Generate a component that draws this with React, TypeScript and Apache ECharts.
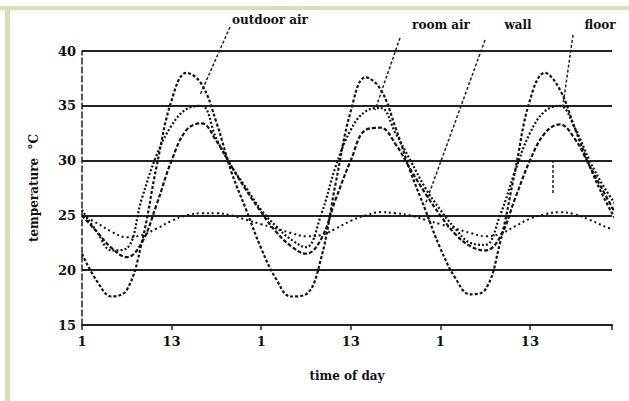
import React, { useEffect, useRef } from "react";
import * as echarts from "echarts";

const hours = [0,2,4,6,8,10,12,14,16,18,20,22,24,26,28,30,32,34,36,38,40,42,44,46,48,50,52,54,56,58,60,62,64,66,68,70,72];
const outdoor = [21.5,19,17.6,18.2,22.5,29.5,35.5,38,37,33.5,29,25.5,22,19.2,17.6,17.8,21,28,34.5,37.6,36.5,33,29,25.5,22,19.3,17.8,18.2,22.5,29,35.5,38,36.5,33,29.5,26.5,24];
const indoorAir = [25.5,23.5,21.8,22,26.5,30.5,33.2,34.7,35,32,29.5,27.5,25.5,24,22.8,22.1,25,29.5,32.8,34.5,34.8,32.5,30,27.5,25.5,23.8,22.5,22.3,25,29,32.5,34.5,35,33,30,27.5,25.5];
const wallSurface = [25,23.5,22,21.2,22.5,26,30,32.8,33.4,31.8,29.5,27.3,25.3,23.5,22.2,21.5,22.8,26.5,30,32.8,33,31.5,29.2,27,25,23.3,22.2,21.8,23,26.5,30,32.5,33.3,32,29.5,27,24.5];
const floorTemp = [25,24.3,23.5,23,23.2,23.8,24.5,25,25.2,25.2,25,24.6,24.2,23.8,23.4,23.1,23.2,23.8,24.5,25,25.3,25.2,25,24.6,24.2,23.8,23.4,23.1,23.3,24,24.7,25.1,25.3,25.1,24.6,24,23.5];
const xTickLabels: Record<number, string> = { 0: "1", 12: "13", 24: "1", 36: "13", 48: "1", 60: "13" };
const seriesNames = ["outdoor air", "room air", "wall", "floor"];

export default function App() {
  const ref = useRef<HTMLDivElement>(null);
  useEffect(() => {
    if (!ref.current) return;
    const chart = echarts.init(ref.current, null, { renderer: "svg" });
    const font = "DejaVu Serif";
    const mk = (arr: number[]) => hours.map((h, i) => [h, arr[i]]);
    const lineSeries = (name: string, arr: number[], type: any, width: number) => ({
      name,
      type: "line",
      data: mk(arr),
      smooth: 0.4,
      showSymbol: false,
      symbol: "none",
      clip: true,
      lineStyle: { color: "#111", width, type },
    });
    const label = (text: string, x: number, y: number) => ({
      type: "text",
      x,
      y,
      style: { text, fontFamily: font, fontSize: 12, fontWeight: "bold", fill: "#111", align: "center", verticalAlign: "middle" },
    });
    const leader = (x1: number, y1: number, x2: number, y2: number) => ({
      type: "line",
      shape: { x1, y1, x2, y2 },
      style: { stroke: "#222", lineWidth: 1.5, lineDash: [3, 2] },
    });
    chart.setOption({
      animation: false,
      backgroundColor: "#ffffff",
      grid: { left: 82, right: 17, top: 51, bottom: 76 },
      xAxis: {
        type: "value",
        min: 0,
        max: 71,
        interval: 12,
        name: "time of day",
        nameLocation: "middle",
        nameGap: 45,
        nameTextStyle: { fontFamily: font, fontSize: 12, fontWeight: "bold", color: "#111" },
        axisLine: { show: true, lineStyle: { color: "#222", width: 2 } },
        axisTick: { show: true, length: 5, lineStyle: { color: "#222", width: 1.5 } },
        axisLabel: {
          fontFamily: font,
          fontSize: 13,
          fontWeight: "bold",
          color: "#111",
          margin: 10,
          formatter: (v: number) => xTickLabels[v] ?? "",
        },
        splitLine: { show: false },
      },
      yAxis: {
        type: "value",
        min: 15,
        max: 40,
        interval: 5,
        name: "temperature  °C",
        nameLocation: "middle",
        nameRotate: 90,
        nameGap: 42,
        nameTextStyle: { fontFamily: font, fontSize: 12, fontWeight: "bold", color: "#111" },
        axisLine: { show: true, lineStyle: { color: "#222", width: 1.5, type: "dashed" } },
        axisTick: { show: false },
        axisLabel: { fontFamily: font, fontSize: 13, fontWeight: "bold", color: "#111", margin: 6 },
        splitLine: { show: true, lineStyle: { color: "#222", width: 2 } },
      },
      series: [
        lineSeries(seriesNames[0], outdoor, [3, 2], 2.2),
        lineSeries(seriesNames[1], indoorAir, [2, 2], 2.2),
        lineSeries(seriesNames[2], wallSurface, [4, 2], 2.2),
        lineSeries(seriesNames[3], floorTemp, [2, 3], 2),
      ],
      graphic: [
        { type: "rect", shape: { x: 0, y: 6, width: 629, height: 4 }, style: { fill: "#d3e2b4" } },
        { type: "rect", shape: { x: 5, y: 6, width: 5, height: 395 }, style: { fill: "#d3e2b4" } },
        label(seriesNames[0], 270, 20),
        label(seriesNames[1], 441, 25),
        label(seriesNames[2], 518, 25),
        label(seriesNames[3], 600, 25),
        leader(230, 27, 200, 95),
        leader(400, 38, 375, 110),
        leader(485, 40, 425, 205),
        leader(573, 35, 563, 105),
        leader(553, 160, 553, 195),
      ],
    });
    return () => chart.dispose();
  }, []);
  return <div ref={ref} style={{ width: 629, height: 401, position: "absolute", left: 0, top: 0 }} />;
}
